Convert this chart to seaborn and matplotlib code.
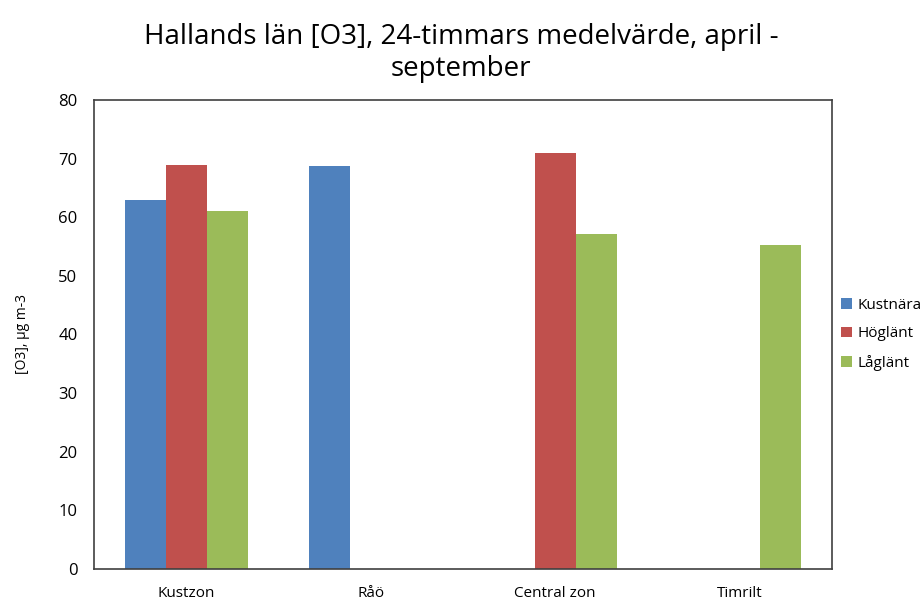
import numpy as np
import pandas as pd
import seaborn as sns
import matplotlib.pyplot as plt

categories = ["Kustzon", "Råö", "Central zon", "Timrilt"]
series = ["Kustnära", "Höglänt", "Låglänt"]
kustnara = [63.0, 68.8, np.nan, np.nan]
hoglant = [68.9, np.nan, 71.0, np.nan]
laglant = [61.1, np.nan, 57.1, 55.2]
colors = ["#4F81BD", "#C0504D", "#9BBB59"]

df = pd.DataFrame({
    "zon": categories * 3,
    "typ": [s for s in series for _ in categories],
    "o3": kustnara + hoglant + laglant,
})

sns.set_style("white")
plt.rcParams["font.family"] = ["Open Sans", "DejaVu Sans"]
plt.rcParams["text.color"] = "black"
plt.rcParams["xtick.color"] = "black"
plt.rcParams["ytick.color"] = "black"
plt.rcParams["axes.labelcolor"] = "black"

fig = plt.figure(figsize=(9.22, 6.02), dpi=100)
ax = fig.add_axes([0.102, 0.055, 0.800, 0.779])

sns.barplot(data=df, x="zon", y="o3", hue="typ", order=categories,
            hue_order=series, palette=colors, width=0.667, dodge=True,
            saturation=1, edgecolor="none", ax=ax)

ax.set_ylim(0, 80)
ax.set_yticks(range(0, 81, 10))
ax.set_xlim(-0.5, 3.5)
ax.set_xticks(range(4))
ax.set_xticklabels(categories)
ax.set_xticks([0.5, 1.5, 2.5], minor=True)
ax.tick_params(axis="x", which="major", length=0, labelsize=11, pad=12)
ax.tick_params(axis="x", which="minor", length=5, direction="in", color="#404040")
ax.tick_params(axis="y", length=5, direction="in", labelsize=12, pad=12, color="#404040")
ax.set_xlabel("")
ax.set_ylabel("[O3], µg m-3", fontsize=10, labelpad=20)
for s in ax.spines.values():
    s.set_color("#404040")
    s.set_linewidth(1.2)

fig.suptitle("Hallands län [O3], 24-timmars medelvärde, april -\nseptember",
             fontsize=20, y=0.962, x=0.5, linespacing=1.2)

leg = ax.legend(loc="center left", bbox_to_anchor=(1.0, 0.5), frameon=False,
                fontsize=11, handlelength=0.7, handleheight=0.7,
                handletextpad=0.4, labelspacing=0.9, borderaxespad=0.2)

fig.savefig("out.png", dpi=100)
